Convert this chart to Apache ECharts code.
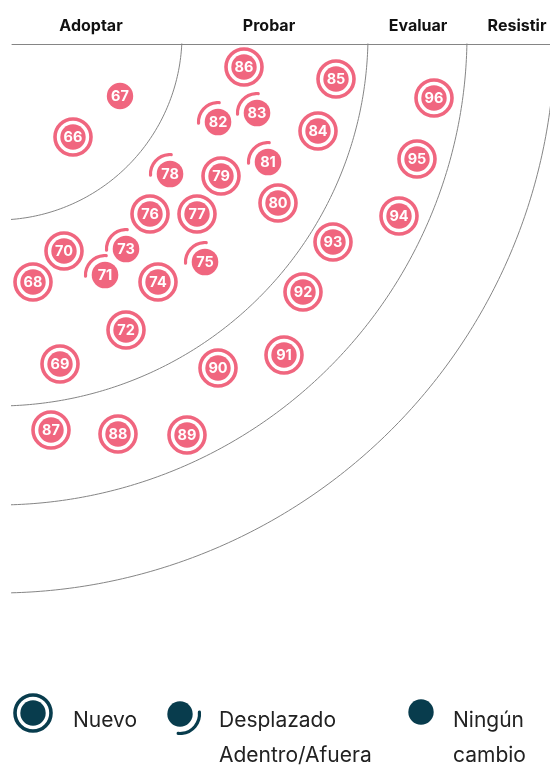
<!DOCTYPE html>
<html>
<head>
<meta charset="utf-8">
<script src="https://cdn.jsdelivr.net/npm/echarts@6/dist/echarts.min.js"></script>
<style>
html,body{margin:0;padding:0;background:#fff;}
#chart{width:550px;height:765px;}
</style>
</head>
<body>
<div id="chart"></div>
<script>
// ---- data (coordinates measured from radar centre, in px-like units) ----
const stageNames = ['Adoptar', 'Probar', 'Evaluar', 'Resistir'];
const stageLabelX = [94, 272, 421, 520];
const ringRadii = [185, 371, 470, 558];

const blipIds = [66,67,68,69,70,71,72,73,74,75,76,77,78,79,80,81,82,83,84,85,86,87,88,89,90,91,92,93,94,95,96];
const blipX   = [76,123,36,63,67,108,129,129,161,208,153,200,173,224,281,271,221,260,321,339,247,54,121,190,221,287,306,336,402,420,437];
const blipY   = [102,61,247,329,216,240,295,214,247,227,179,179,139,141,168,127,87,78,96,44,32,395,399,400,333,320,257,207,181,124,63];
// N = Nuevo, D = Desplazado Adentro/Afuera, S = Ningún cambio
const blipType = ['N','S','N','N','N','D','N','D','N','D','N','N','D','N','N','D','D','D','N','N','N','N','N','N','N','N','N','N','N','N','N'];

const legendNames = ['Nuevo', 'Desplazado\nAdentro/Afuera', 'Ningún\ncambio'];

// ---- styles ----
const PINK = '#f0667f';
const DARK = '#083c4d';
const LINE = '#858585';
const FONT = 'Inter, "Noto Sans", sans-serif';

const chart = echarts.init(document.getElementById('chart'), null, {renderer: 'canvas'});

// ring arcs built from the radii
const ringSeries = ringRadii.map(function (r) {
  const pts = [];
  for (let a = 0; a <= 90; a += 0.5) {
    const t = a * Math.PI / 180;
    pts.push([r * Math.cos(t), r * Math.sin(t)]);
  }
  return {
    type: 'line', data: pts, showSymbol: false, symbol: 'none', silent: true,
    clip: true, lineStyle: {color: LINE, width: 1}, z: 1, animation: false
  };
});

const blipData = blipIds.map(function (id, i) { return [blipX[i], blipY[i], id]; });

function renderBlip(params, api) {
  const i = params.dataIndex;
  const p = api.coord([api.value(0), api.value(1)]);
  const t = blipType[i];
  const kids = [];
  if (t === 'N') {
    kids.push({type: 'circle', shape: {cx: p[0], cy: p[1], r: 18}, style: {fill: 'none', stroke: PINK, lineWidth: 3.6}});
    kids.push({type: 'circle', shape: {cx: p[0], cy: p[1], r: 12.7}, style: {fill: PINK}});
  } else if (t === 'D') {
    kids.push({type: 'arc', shape: {cx: p[0], cy: p[1], r: 19.5, startAngle: Math.PI * 0.98, endAngle: Math.PI * 1.52, clockwise: true},
      style: {fill: 'none', stroke: PINK, lineWidth: 3.2, lineCap: 'round'}});
    kids.push({type: 'circle', shape: {cx: p[0], cy: p[1], r: 13.3}, style: {fill: PINK}});
  } else {
    kids.push({type: 'circle', shape: {cx: p[0], cy: p[1], r: 13.2}, style: {fill: PINK}});
  }
  kids.push({type: 'text', style: {text: String(api.value(2)), x: p[0], y: p[1] + 0.5, align: 'center', verticalAlign: 'middle',
    fill: '#ffffff', font: 'bold 14.5px ' + FONT}});
  return {type: 'group', children: kids};
}

// legend drawn as graphic
const legendGraphic = [];
// Nuevo
legendGraphic.push({type: 'circle', shape: {cx: 33, cy: 713, r: 18}, style: {fill: 'none', stroke: DARK, lineWidth: 3.6}});
legendGraphic.push({type: 'circle', shape: {cx: 33, cy: 713, r: 12.7}, style: {fill: DARK}});
// Desplazado
legendGraphic.push({type: 'arc', shape: {cx: 180, cy: 714, r: 19.5, startAngle: -Math.PI * 0.03, endAngle: Math.PI * 0.53, clockwise: true},
  style: {fill: 'none', stroke: DARK, lineWidth: 3.2, lineCap: 'round'}});
legendGraphic.push({type: 'circle', shape: {cx: 180, cy: 714, r: 12.7}, style: {fill: DARK}});
// Ningún cambio
legendGraphic.push({type: 'circle', shape: {cx: 421, cy: 712, r: 12.7}, style: {fill: DARK}});
const legendTextX = [73, 219, 453];
legendNames.forEach(function (n, i) {
  legendGraphic.push({type: 'text', style: {text: n, x: legendTextX[i], y: 703, fill: '#222', font: '21px ' + FONT, lineHeight: 35, align: 'left', verticalAlign: 'top'}});
});

chart.setOption({
  animation: false,
  backgroundColor: '#fff',
  grid: {left: 12, top: 44, width: 538, height: 600, containLabel: false},
  xAxis: {
    type: 'value', position: 'top', min: 15, max: 553,
    axisLine: {show: true, onZero: false, lineStyle: {color: LINE, width: 1}},
    axisTick: {show: false},
    splitLine: {show: false},
    axisLabel: {
      show: true, customValues: stageLabelX, margin: 10,
      color: '#111', fontFamily: FONT, fontWeight: 'bold', fontSize: 16,
      formatter: function (v) { const k = stageLabelX.indexOf(v); return k >= 0 ? stageNames[k] : ''; }
    }
  },
  yAxis: {
    type: 'value', inverse: true, min: 9, max: 609,
    axisLine: {show: false}, axisTick: {show: false}, axisLabel: {show: false}, splitLine: {show: false}
  },
  series: ringSeries.concat([{
    type: 'custom', data: blipData, renderItem: renderBlip, z: 5, clip: false,
    encode: {x: 0, y: 1}
  }]),
  graphic: legendGraphic
});
</script>
</body>
</html>
